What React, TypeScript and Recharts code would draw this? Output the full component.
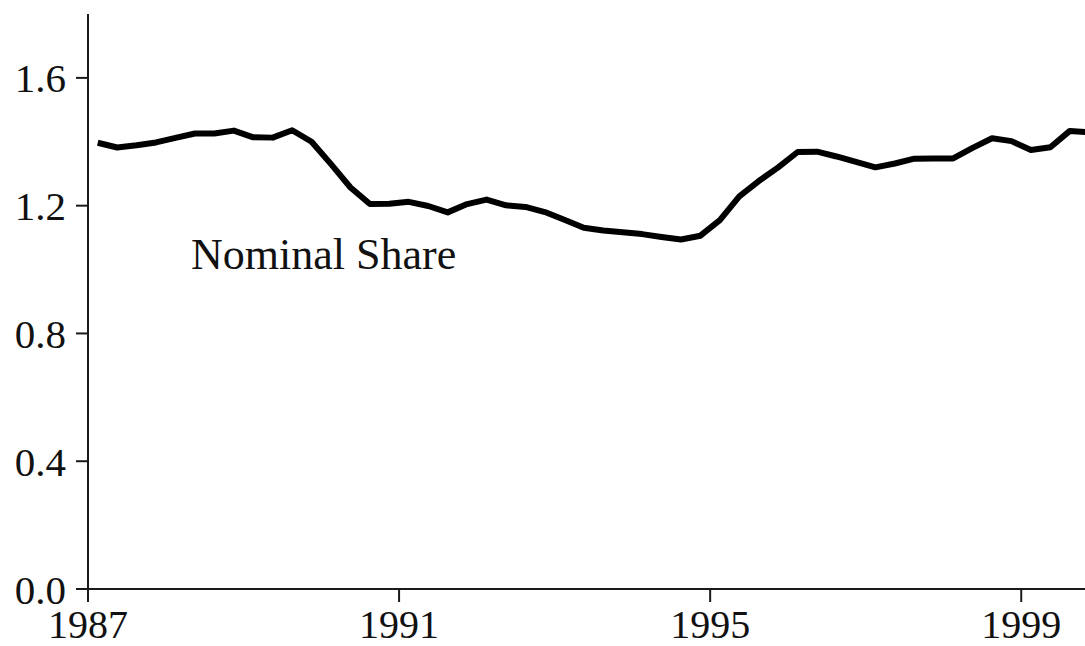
import { LineChart, Line, XAxis, YAxis, ReferenceDot } from 'recharts'

// quarterly observations, plotted at mid-quarter (1987Q1 .. 1999Q4)
const quarters = [
  1987.125, 1987.375, 1987.625, 1987.875,
  1988.125, 1988.375, 1988.625, 1988.875,
  1989.125, 1989.375, 1989.625, 1989.875,
  1990.125, 1990.375, 1990.625, 1990.875,
  1991.125, 1991.375, 1991.625, 1991.875,
  1992.125, 1992.375, 1992.625, 1992.875,
  1993.125, 1993.375, 1993.625, 1993.875,
  1994.125, 1994.375, 1994.625, 1994.875,
  1995.125, 1995.375, 1995.625, 1995.875,
  1996.125, 1996.375, 1996.625, 1996.875,
  1997.125, 1997.375, 1997.625, 1997.875,
  1998.125, 1998.375, 1998.625, 1998.875,
  1999.125, 1999.375, 1999.625, 1999.875,
]

const nominalShare = [
  1.397, 1.382, 1.389, 1.398,
  1.412, 1.426, 1.426, 1.435,
  1.414, 1.413, 1.436, 1.4,
  1.33, 1.257, 1.205, 1.206,
  1.212, 1.199, 1.179, 1.205,
  1.219, 1.201, 1.196, 1.18,
  1.156, 1.131, 1.122, 1.117,
  1.111, 1.102, 1.094, 1.106,
  1.155, 1.229, 1.277, 1.32,
  1.368, 1.369, 1.354, 1.337,
  1.32, 1.332, 1.347, 1.348,
  1.348, 1.381, 1.411, 1.402,
  1.374, 1.383, 1.434, 1.43,
]

const xTicks = [1987, 1991, 1995, 1999]
const yTicks = [0, 0.4, 0.8, 1.2, 1.6]
const seriesLabel = 'Nominal Share'

const data = quarters.map((q, i) => ({ q, share: nominalShare[i] }))

const font = '"Liberation Serif", "Times New Roman", serif'
const ink = '#111'

export default function App() {
  return (
    <div style={{ position: 'absolute', left: 0, top: 0, background: '#fff' }}>
      <LineChart width={1085} height={646} data={data} margin={{ top: 14, right: 0, left: 0, bottom: 0 }}>
        <XAxis
          type="number"
          dataKey="q"
          domain={[1987, 1999.82]}
          allowDataOverflow
          ticks={xTicks}
          height={57}
          stroke="#1a1a1a"
          strokeWidth={2}
          tickSize={13}
          tickMargin={8}
          tick={{ fontSize: 40, fill: ink, fontFamily: font }}
        />
        <YAxis
          type="number"
          domain={[0, 1.8]}
          ticks={yTicks}
          width={88}
          stroke="#1a1a1a"
          strokeWidth={2}
          tickSize={12}
          tickMargin={10}
          tickFormatter={(v: number) => v.toFixed(1)}
          tick={{ fontSize: 41, fill: ink, fontFamily: font }}
        />
        <ReferenceDot
          x={1990.03}
          y={1.05}
          r={0}
          fill="none"
          stroke="none"
          label={{ value: seriesLabel, position: 'center', fontSize: 44, fill: ink, fontFamily: font }}
        />
        <Line
          type="linear"
          dataKey="share"
          stroke="#000"
          strokeWidth={6}
          strokeLinejoin="round"
          dot={false}
          isAnimationActive={false}
        />
      </LineChart>
    </div>
  )
}
